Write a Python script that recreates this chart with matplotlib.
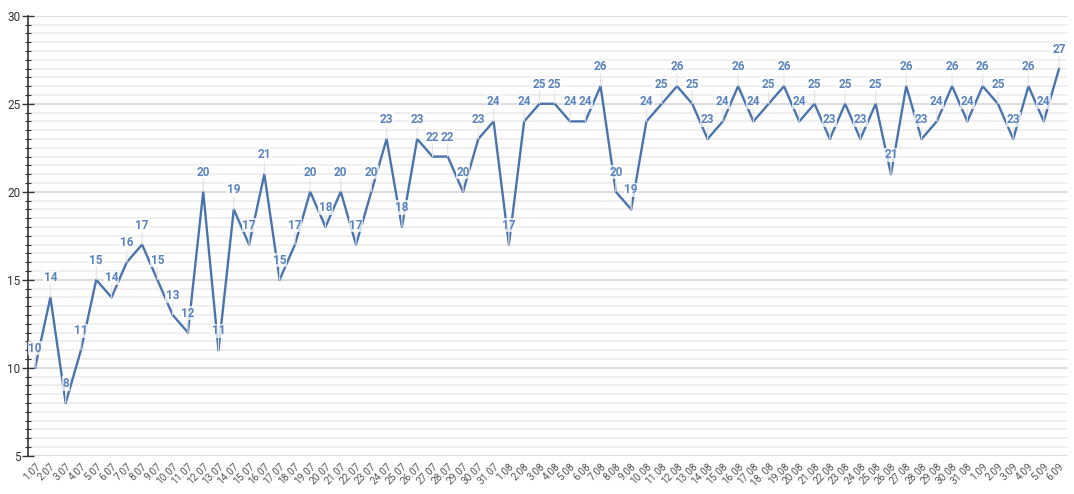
import numpy as np
import matplotlib
matplotlib.use("Agg")
import matplotlib.pyplot as plt
from matplotlib.ticker import MultipleLocator

# ========================
# DATA
# ========================
DATES = (
    [f"{d}.07" for d in range(1, 32)]
    + [f"{d}.08" for d in range(1, 32)]
    + [f"{d}.09" for d in range(1, 7)]
)
DATES[DATES.index("18.08")] = "18. 08"

VALUES = [
    10, 14, 8, 11, 15, 14, 16, 17, 15, 13, 12, 20, 11, 19, 17, 21,
    15, 17, 20, 18, 20, 17, 20, 23, 18, 23, 22, 22, 20, 23, 24,
    17, 24, 25, 25, 24, 24, 26, 20, 19, 24, 25, 26, 25, 23, 24,
    26, 24, 25, 26, 24, 25, 23, 25, 23, 25, 21, 26, 23, 24, 26, 24,
    26, 25, 23, 26, 24, 27,
]

LINE_COLOR = "#4a74ae"
LABEL_COLOR = "#5a84bf"

plt.rcParams["font.family"] = ["Roboto", "DejaVu Sans"]

fig = plt.figure(figsize=(10.74, 4.94), dpi=100)
ax = fig.add_axes([0.026, 0.0775, 0.9675, 0.8905])

x = np.arange(len(VALUES))
ax.plot(x, VALUES, color=LINE_COLOR, lw=1.7, zorder=3)

# data labels with faint leader lines
for xi, v in zip(x, VALUES):
    ax.annotate(
        str(v), xy=(xi, v), xytext=(0, 14), textcoords="offset points",
        ha="center", va="center", fontsize=8.5, fontweight="bold",
        color=LABEL_COLOR, zorder=4,
        bbox=dict(boxstyle="square,pad=0.05", fc="white", ec="none", alpha=0.75),
        arrowprops=dict(arrowstyle="-", color="#e2e2e2", lw=0.8,
                        shrinkA=0, shrinkB=0),
    )

ax.set_xlim(-0.47, len(VALUES) - 0.48)
ax.set_ylim(5, 30)
ax.yaxis.set_major_locator(MultipleLocator(5))
ax.yaxis.set_minor_locator(MultipleLocator(0.5))
ax.grid(axis="y", which="major", color="#d9d9d9", lw=1.3, zorder=0)
ax.grid(axis="y", which="minor", color="#ebebeb", lw=1.1, zorder=0)
ax.set_axisbelow(True)

ax.set_xticks(x)
ax.set_xticklabels(DATES, rotation=45, ha="right", rotation_mode="anchor",
                   fontsize=7.3, color="#555555")
ax.tick_params(axis="x", length=0, pad=4)
ax.tick_params(axis="y", which="major", direction="inout", length=9,
               width=1, color="#333333", labelsize=8.5, labelcolor="#333333", pad=1)
ax.tick_params(axis="y", which="minor", direction="inout", length=5,
               width=0.8, color="#333333")

for s in ["top", "right", "bottom"]:
    ax.spines[s].set_visible(False)
ax.spines["left"].set_color("#333333")
ax.spines["left"].set_linewidth(1.2)

fig.savefig("out.png", dpi=100)
